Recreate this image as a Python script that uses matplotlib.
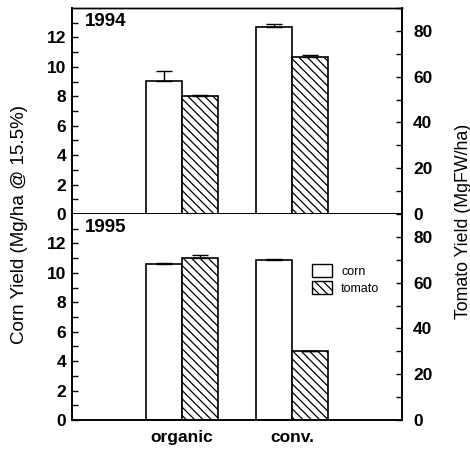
import matplotlib
matplotlib.use("Agg")
import matplotlib.pyplot as plt
from matplotlib.patches import Patch
from matplotlib.ticker import FixedLocator

plt.rcParams['font.family'] = ['Liberation Sans', 'DejaVu Sans']
plt.rcParams['hatch.linewidth'] = 0.9

systems = ["organic", "conv."]
years = ["1994", "1995"]
corn_yield = {"1994": [9.05, 12.7], "1995": [10.6, 10.87]}
corn_err = {"1994": [0.65, 0.2], "1995": [0.1, 0.07]}
tomato_yield = {"1994": [51.4, 68.5], "1995": [70.9, 30.1]}
tomato_err = {"1994": [0.7, 0.9], "1995": [1.0, 0.2]}
corn_ticks = [0, 2, 4, 6, 8, 10, 12]
tomato_ticks = [0, 20, 40, 60, 80]

W, H = 470, 450
fig = plt.figure(figsize=(W / 100, H / 100), dpi=100)

left, right = 72 / W, 402 / W
panels = [(8, 214), (214, 420)]
xpos = [1, 2]
bw = 0.33

for i, yr in enumerate(years):
    top, bot = panels[i]
    ax = fig.add_axes([left, 1 - bot / H, right - left, (bot - top) / H])
    axr = ax.twinx()
    ax.set_xlim(0, 3)
    ax.set_ylim(0, 14)
    axr.set_ylim(0, 90)

    cx = [x - bw / 2 for x in xpos]
    tx = [x + bw / 2 for x in xpos]
    ax.bar(cx, corn_yield[yr], width=bw, color='white', edgecolor='black',
           linewidth=1.2, zorder=2)
    ax.errorbar(cx, corn_yield[yr], yerr=[[0, 0], corn_err[yr]], fmt='none',
                ecolor='black', elinewidth=1.0, capsize=6, capthick=1.0, zorder=3)
    axr.bar(tx, tomato_yield[yr], width=bw, color='white', edgecolor='black',
            linewidth=1.2, hatch='\\\\\\\\', zorder=2)
    axr.errorbar(tx, tomato_yield[yr], yerr=[[0, 0], tomato_err[yr]], fmt='none',
                 ecolor='black', elinewidth=1.0, capsize=6, capthick=1.0, zorder=3)

    for a in (ax, axr):
        for s in a.spines.values():
            s.set_linewidth(1.2)
        a.spines['top'].set_linewidth(1.0)
        if i == 1:
            a.spines['top'].set_visible(False)

    ax.yaxis.set_major_locator(FixedLocator(corn_ticks))
    ax.yaxis.set_minor_locator(FixedLocator([t + 1 for t in corn_ticks]))
    axr.yaxis.set_major_locator(FixedLocator(tomato_ticks))
    axr.yaxis.set_minor_locator(FixedLocator([t + 10 for t in tomato_ticks]))

    ax.tick_params(axis='y', which='both', direction='in', length=4, width=1.0,
                   pad=4, left=True, right=False)
    axr.tick_params(axis='y', which='both', direction='in', length=4, width=1.0,
                    pad=8, right=True, left=False)
    for lab in ax.get_yticklabels() + axr.get_yticklabels():
        lab.set_fontsize(12.5)
        lab.set_fontweight('bold')

    if i == 0:
        ax.set_xticks([])
    else:
        ax.set_xticks(xpos)
        ax.set_xticklabels(systems, fontsize=12.5, fontweight='bold')
        ax.tick_params(axis='x', length=0, pad=7)

    ax.text(0.04, 0.975, yr, transform=ax.transAxes, ha='left', va='top',
            fontsize=13.5, fontweight='bold')

    if i == 1:
        handles = [Patch(facecolor='white', edgecolor='black', linewidth=1.0, label='corn'),
                   Patch(facecolor='white', edgecolor='black', linewidth=1.0,
                         hatch='\\\\\\\\', label='tomato')]
        fig.legend(handles=handles, loc='upper left',
                   bbox_to_anchor=(312 / W, 1 - 264 / H), bbox_transform=fig.transFigure,
                   frameon=False, fontsize=9, borderpad=0, borderaxespad=0,
                   handlelength=1.6, handleheight=1.28, labelspacing=0.24,
                   handletextpad=0.72)

fig.text(20 / W, 1 - 225 / H, "Corn Yield (Mg/ha @ 15.5%)", rotation=90,
         ha='center', va='center', fontsize=13.5)
fig.text(463 / W, 1 - 221 / H, "Tomato Yield (MgFW/ha)", rotation=90,
         ha='center', va='center', fontsize=12.8)

fig.savefig("out.png", dpi=100)
